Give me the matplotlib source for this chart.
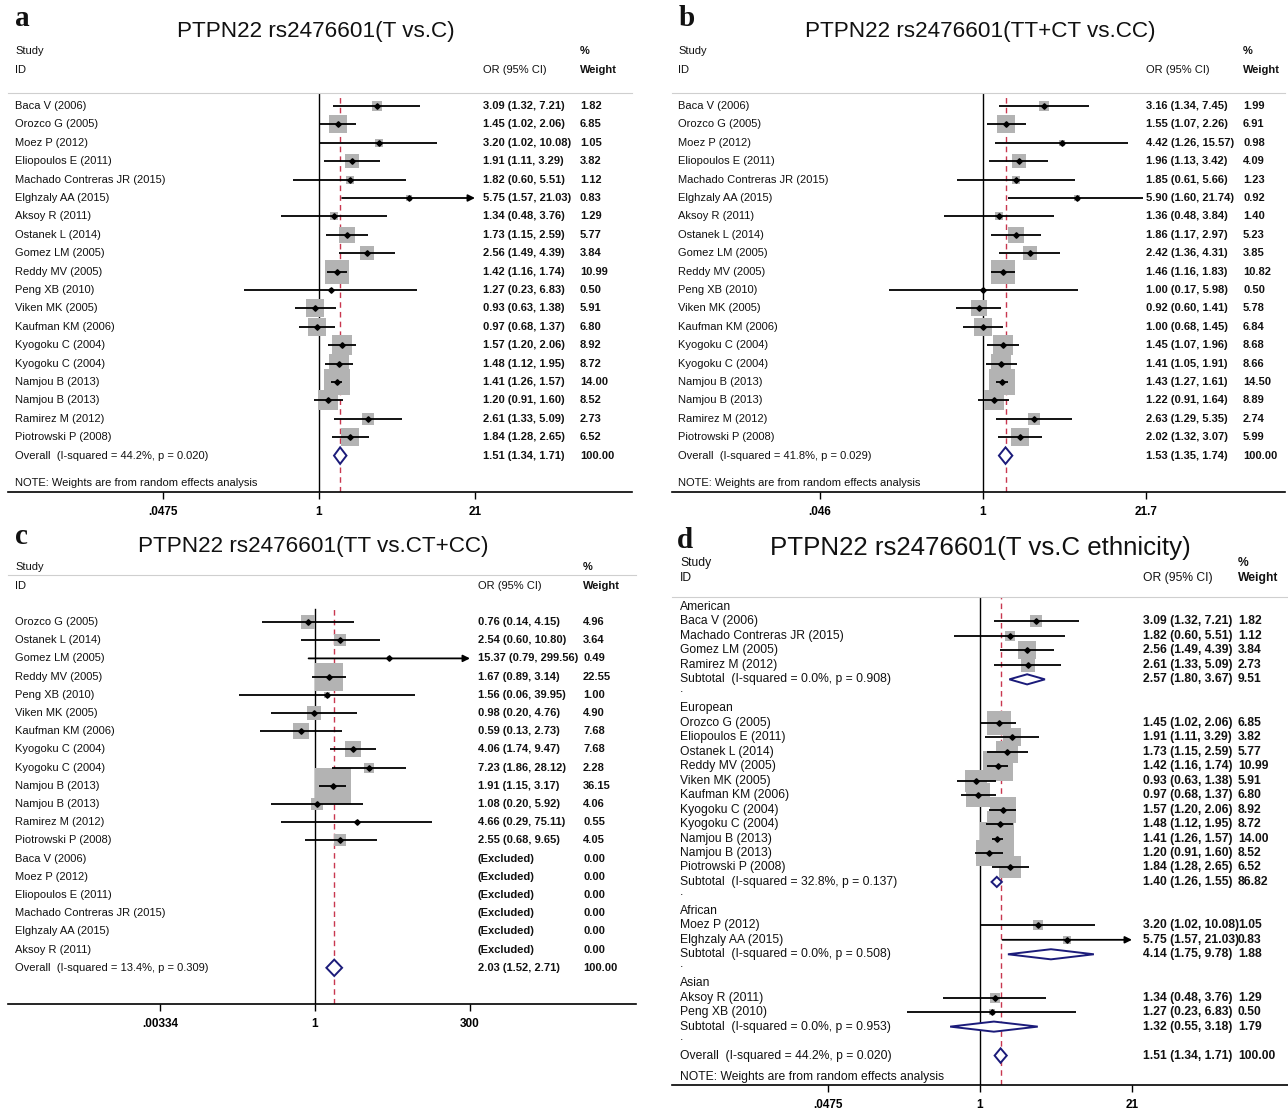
import matplotlib
matplotlib.use('Agg')
import matplotlib.pyplot as plt
import numpy as np

W, H = 1288, 1110
plt.rcParams['font.family'] = ['Liberation Sans', 'DejaVu Sans']

BOX = '#b3b3b3'
NAVY = '#1b1b7a'
RED = '#c8374f'
TXT = '#111111'

# ---------------- data ----------------
studies_all = ["Baca V (2006)", "Orozco G (2005)", "Moez P (2012)", "Eliopoulos E (2011)",
               "Machado Contreras JR (2015)", "Elghzaly AA (2015)", "Aksoy R (2011)",
               "Ostanek L (2014)", "Gomez LM (2005)", "Reddy MV (2005)", "Peng XB (2010)",
               "Viken MK (2005)", "Kaufman KM (2006)", "Kyogoku C (2004)", "Kyogoku C (2004)",
               "Namjou B (2013)", "Namjou B (2013)", "Ramirez M (2012)", "Piotrowski P (2008)"]

# a: T vs C
or_a = [3.09, 1.45, 3.20, 1.91, 1.82, 5.75, 1.34, 1.73, 2.56, 1.42, 1.27, 0.93, 0.97, 1.57, 1.48, 1.41, 1.20, 2.61, 1.84]
lo_a = [1.32, 1.02, 1.02, 1.11, 0.60, 1.57, 0.48, 1.15, 1.49, 1.16, 0.23, 0.63, 0.68, 1.20, 1.12, 1.26, 0.91, 1.33, 1.28]
hi_a = [7.21, 2.06, 10.08, 3.29, 5.51, 21.03, 3.76, 2.59, 4.39, 1.74, 6.83, 1.38, 1.37, 2.06, 1.95, 1.57, 1.60, 5.09, 2.65]
w_a = [1.82, 6.85, 1.05, 3.82, 1.12, 0.83, 1.29, 5.77, 3.84, 10.99, 0.50, 5.91, 6.80, 8.92, 8.72, 14.00, 8.52, 2.73, 6.52]
overall_a = (1.51, 1.34, 1.71, "Overall  (I-squared = 44.2%, p = 0.020)")

# b: TT+CT vs CC
or_b = [3.16, 1.55, 4.42, 1.96, 1.85, 5.90, 1.36, 1.86, 2.42, 1.46, 1.00, 0.92, 1.00, 1.45, 1.41, 1.43, 1.22, 2.63, 2.02]
lo_b = [1.34, 1.07, 1.26, 1.13, 0.61, 1.60, 0.48, 1.17, 1.36, 1.16, 0.17, 0.60, 0.68, 1.07, 1.05, 1.27, 0.91, 1.29, 1.32]
hi_b = [7.45, 2.26, 15.57, 3.42, 5.66, 21.74, 3.84, 2.97, 4.31, 1.83, 5.98, 1.41, 1.45, 1.96, 1.91, 1.61, 1.64, 5.35, 3.07]
w_b = [1.99, 6.91, 0.98, 4.09, 1.23, 0.92, 1.40, 5.23, 3.85, 10.82, 0.50, 5.78, 6.84, 8.68, 8.66, 14.50, 8.89, 2.74, 5.99]
overall_b = (1.53, 1.35, 1.74, "Overall  (I-squared = 41.8%, p = 0.029)")

# c: TT vs CT+CC
studies_c = ["Orozco G (2005)", "Ostanek L (2014)", "Gomez LM (2005)", "Reddy MV (2005)", "Peng XB (2010)",
             "Viken MK (2005)", "Kaufman KM (2006)", "Kyogoku C (2004)", "Kyogoku C (2004)",
             "Namjou B (2013)", "Namjou B (2013)", "Ramirez M (2012)", "Piotrowski P (2008)"]
or_c = [0.76, 2.54, 15.37, 1.67, 1.56, 0.98, 0.59, 4.06, 7.23, 1.91, 1.08, 4.66, 2.55]
lo_c = [0.14, 0.60, 0.79, 0.89, 0.06, 0.20, 0.13, 1.74, 1.86, 1.15, 0.20, 0.29, 0.68]
hi_c = [4.15, 10.80, 299.56, 3.14, 39.95, 4.76, 2.73, 9.47, 28.12, 3.17, 5.92, 75.11, 9.65]
w_c = [4.96, 3.64, 0.49, 22.55, 1.00, 4.90, 7.68, 7.68, 2.28, 36.15, 4.06, 0.55, 4.05]
excluded_c = ["Baca V (2006)", "Moez P (2012)", "Eliopoulos E (2011)", "Machado Contreras JR (2015)",
              "Elghzaly AA (2015)", "Aksoy R (2011)"]
overall_c = (2.03, 1.52, 2.71, "Overall  (I-squared = 13.4%, p = 0.309)")

# d: T vs C by ethnicity
groups_d = ["American", "European", "African", "Asian"]
members_d = [
    ["Baca V (2006)", "Machado Contreras JR (2015)", "Gomez LM (2005)", "Ramirez M (2012)"],
    ["Orozco G (2005)", "Eliopoulos E (2011)", "Ostanek L (2014)", "Reddy MV (2005)", "Viken MK (2005)",
     "Kaufman KM (2006)", "Kyogoku C (2004)", "Kyogoku C (2004)", "Namjou B (2013)", "Namjou B (2013)",
     "Piotrowski P (2008)"],
    ["Moez P (2012)", "Elghzaly AA (2015)"],
    ["Aksoy R (2011)", "Peng XB (2010)"],
]
subtotal_d = [
    (2.57, 1.80, 3.67, 9.51, "Subtotal  (I-squared = 0.0%, p = 0.908)"),
    (1.40, 1.26, 1.55, 86.82, "Subtotal  (I-squared = 32.8%, p = 0.137)"),
    (4.14, 1.75, 9.78, 1.88, "Subtotal  (I-squared = 0.0%, p = 0.508)"),
    (1.32, 0.55, 3.18, 1.79, "Subtotal  (I-squared = 0.0%, p = 0.953)"),
]
overall_d = (1.51, 1.34, 1.71, "Overall  (I-squared = 44.2%, p = 0.020)")

fig = plt.figure(figsize=(W / 100, H / 100), dpi=100)


def ftext(px, py, s, **kw):
    fig.text(px / W, 1 - py / H, s, color=TXT, **kw)


def make_panel(left, right, top, bottom, y0, step, p1, p_hi, ticks, ticklabels, est, vtop=None):
    ax = fig.add_axes([left / W, 1 - bottom / H, (right - left) / W, (bottom - top) / H])
    ax.set_xscale('log')
    k = (p_hi - p1) / np.log(ticks[-1])
    ax.set_xlim(np.exp((left - p1) / k), np.exp((right - p1) / k))
    ax.set_ylim((bottom - y0) / step, (top - y0) / step)
    ax.set_xticks(ticks)
    ax.set_xticklabels(ticklabels, fontweight='bold', fontsize=8.5)
    ax.minorticks_off()
    ax.set_yticks([])
    ax.tick_params(axis='x', length=5, width=1, pad=5)
    for s in ['left', 'right']:
        ax.spines[s].set_visible(False)
    ax.spines['top'].set_color('#cfcfcf')
    ax.spines['bottom'].set_linewidth(1.2)
    # reference lines (null and pooled estimate)
    ymax = 1.0 if vtop is None else (bottom - vtop) / (bottom - top)
    ax.axvline(1, ymin=0, ymax=ymax, color='black', lw=1, zorder=1)
    ax.axvline(est, ymin=0, ymax=ymax, color=RED, lw=1, ls=(0, (4, 3)), zorder=1)
    ax.patch.set_alpha(0)
    ax.fx = lambda px: (px - left) / (right - left)
    return ax


def study(ax, y, est, lo, hi, w, box_px, arrow_at=None, clip=None):
    side = np.sqrt(w) * box_px * 0.72
    ax.scatter([est], [y], s=side ** 2, marker='s', color=BOX, linewidths=0, zorder=2)
    if arrow_at is not None and hi >= 0.99 * arrow_at:
        ax.annotate('', xy=(arrow_at, y), xytext=(lo, y),
                    arrowprops=dict(arrowstyle='-|>', color='black', lw=1.3,
                                    mutation_scale=10, shrinkA=0, shrinkB=0), zorder=3)
    else:
        end = hi if clip is None else min(hi, clip)
        ax.plot([lo, end], [y, y], color='black', lw=1.3, zorder=3, solid_capstyle='butt')
    ax.plot([est], [y], marker='D', ms=2.8, color='black', zorder=4)


def diamond(ax, y, est, lo, hi, h):
    ax.fill([lo, est, hi, est], [y, y - h, y, y + h], facecolor='white',
            edgecolor=NAVY, lw=1.4, zorder=5)


def row_text(ax, y, px, s, fs, weight='normal'):
    ax.text(ax.fx(px), y, s, transform=ax.get_yaxis_transform(), ha='left', va='center',
            fontsize=fs, fontweight=weight, color=TXT, clip_on=False)


def ci_str(e, l, h):
    return f"{e:.2f} ({l:.2f}, {h:.2f})"


def headers(lx, ox, wx, ys, yi, tx, ty, title, tfs, letter, lpx, lpy, fs=8):
    ftext(lx, ys, "Study", fontsize=fs, va='center')
    ftext(lx, yi, "ID", fontsize=fs, va='center')
    ftext(ox, yi, "OR (95% CI)", fontsize=fs, va='center')
    ftext(wx, ys, "%", fontsize=fs, va='center', fontweight='bold')
    ftext(wx, yi, "Weight", fontsize=fs, va='center', fontweight='bold')
    ftext(tx, ty, title, fontsize=tfs, ha='center', va='center')
    ftext(lpx, lpy, letter, fontsize=21, fontweight='bold', family='Liberation Serif', va='center')


# ---------------- panel a and b ----------------
for (left, right, p1, p_hi, ticks, tl, ors, los, his, ws, ov, tcol, ocol, wcol, title, letter,
     arrow_at, clip, tx) in [
    (8, 632, 319, 475, [0.0475, 1, 21], ['.0475', '1', '21'], or_a, lo_a, hi_a, w_a, overall_a,
     15, 483, 580, "PTPN22 rs2476601(T vs.C)", "a", 21, None, 316),
    (672, 1285, 983, 1146, [0.046, 1, 21.7], ['.046', '1', '21.7'], or_b, lo_b, hi_b, w_b, overall_b,
     678, 1146, 1243, "PTPN22 rs2476601(TT+CT vs.CC)", "b", None, 20.5, 980),
]:
    ax = make_panel(left, right, 93, 492, 106, 18.4, p1, p_hi, ticks, tl, ov[0])
    for i, name in enumerate(studies_all):
        study(ax, i, ors[i], los[i], his[i], ws[i], 7.0, arrow_at, clip)
        row_text(ax, i, tcol, name, 8)
        row_text(ax, i, ocol, ci_str(ors[i], los[i], his[i]), 8, 'bold')
        row_text(ax, i, wcol, f"{ws[i]:.2f}", 8, 'bold')
    yo = len(studies_all)
    diamond(ax, yo, ov[0], ov[1], ov[2], 0.45)
    row_text(ax, yo, tcol, ov[3], 8)
    row_text(ax, yo, ocol, ci_str(*ov[:3]), 8, 'bold')
    row_text(ax, yo, wcol, "100.00", 8, 'bold')
    row_text(ax, yo + 1.5, tcol, "NOTE: Weights are from random effects analysis", 8)
    headers(tcol, ocol, wcol, 51, 70, tx, 31, title, 16.2, letter, left + 7, 18)

# ---------------- panel c ----------------
ax = make_panel(8, 636, 575, 1004, 622, 18.2, 315, 470, [0.00334, 1, 300], ['.00334', '1', '300'],
                overall_c[0], vtop=609)
for i, name in enumerate(studies_c):
    study(ax, i, or_c[i], lo_c[i], hi_c[i], w_c[i], 6.0, 300)
    row_text(ax, i, 15, name, 8)
    row_text(ax, i, 478, ci_str(or_c[i], lo_c[i], hi_c[i]), 8, 'bold')
    row_text(ax, i, 583, f"{w_c[i]:.2f}", 8, 'bold')
for j, name in enumerate(excluded_c):
    y = len(studies_c) + j
    row_text(ax, y, 15, name, 8)
    row_text(ax, y, 478, "(Excluded)", 8, 'bold')
    row_text(ax, y, 583, "0.00", 8, 'bold')
yo = len(studies_c) + len(excluded_c)
diamond(ax, yo, overall_c[0], overall_c[1], overall_c[2], 0.45)
row_text(ax, yo, 15, overall_c[3], 8)
row_text(ax, yo, 478, ci_str(*overall_c[:3]), 8, 'bold')
row_text(ax, yo, 583, "100.00", 8, 'bold')
headers(15, 478, 583, 567, 586, 313, 546, "PTPN22 rs2476601(TT vs.CT+CC)", 16.2, "c", 15, 537)

# ---------------- panel d ----------------
FD = 8.7
lookup = {}
for i, name in enumerate(studies_all):
    lookup.setdefault(name, []).append(i)
ax = make_panel(672, 1288, 597, 1085, 607, 14.47, 980, 1132, [0.0475, 1, 21], ['.0475', '1', '21'],
                overall_d[0])
y = 0
used = {}
for g, members, sub in zip(groups_d, members_d, subtotal_d):
    row_text(ax, y, 680, g, FD)
    y += 1
    for name in members:
        n = used.get(name, 0)
        idx = lookup[name][n]
        used[name] = n + 1
        study(ax, y, or_a[idx], lo_a[idx], hi_a[idx], w_a[idx], 9.0, 21)
        row_text(ax, y, 680, name, FD)
        row_text(ax, y, 1143, ci_str(or_a[idx], lo_a[idx], hi_a[idx]), FD, 'bold')
        row_text(ax, y, 1238, f"{w_a[idx]:.2f}", FD, 'bold')
        y += 1
    diamond(ax, y, sub[0], sub[1], sub[2], 0.35)
    row_text(ax, y, 680, sub[4], FD)
    row_text(ax, y, 1143, ci_str(*sub[:3]), FD, 'bold')
    row_text(ax, y, 1238, f"{sub[3]:.2f}", FD, 'bold')
    y += 1
    row_text(ax, y - 0.3, 680, ".", FD)
    y += 1
diamond(ax, y, overall_d[0], overall_d[1], overall_d[2], 0.5)
row_text(ax, y, 680, overall_d[3], FD)
row_text(ax, y, 1143, ci_str(*overall_d[:3]), FD, 'bold')
row_text(ax, y, 1238, "100.00", FD, 'bold')
row_text(ax, y + 1.5, 680, "NOTE: Weights are from random effects analysis", FD)
headers(680, 1143, 1238, 563, 578, 980, 548, "PTPN22 rs2476601(T vs.C ethnicity)", 18.6, "d", 677, 540,
        fs=FD)

fig.savefig('out.png', dpi=100)
